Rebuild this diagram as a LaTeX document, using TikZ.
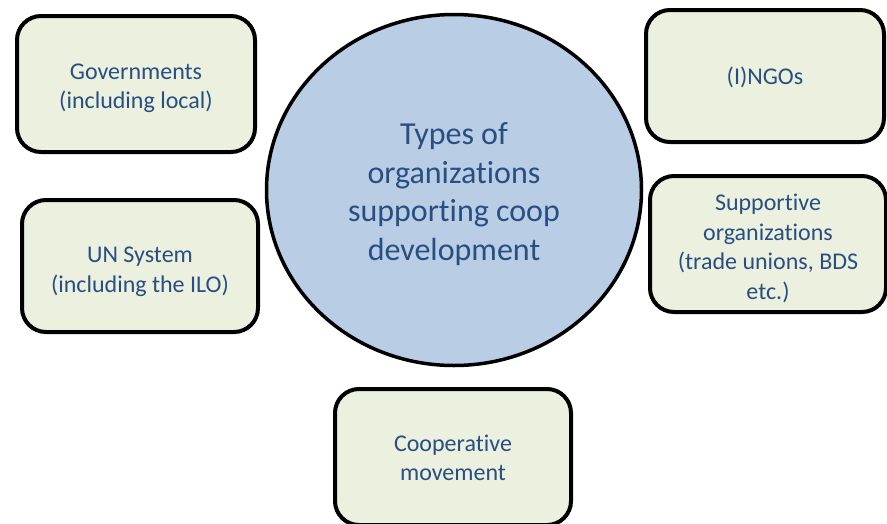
\documentclass[tikz,border=0pt]{standalone}
\usepackage{fontspec}
\setmainfont{Carlito}[Ligatures={NoCommon}]
\usetikzlibrary{shapes.geometric}
\definecolor{txtblue}{RGB}{40,78,130}
\definecolor{boxfill}{RGB}{235,241,222}
\definecolor{circfill}{RGB}{185,205,229}
\newcommand\topstrut[1]{\rule{0pt}{#1}}
\begin{document}
\begin{tikzpicture}[x=1pt,y=-1pt,
  orgbox/.style={draw=black, line width=4pt, fill=boxfill, rounded corners=24pt,
    rectangle, align=center, text=txtblue, inner sep=0pt,
    font=\fontsize{24}{29.5}\selectfont},
  hub/.style={draw=black, line width=3.5pt, fill=circfill, ellipse, inner sep=0pt,
    align=center, text=txtblue, font=\fontsize{32}{38.5}\selectfont}]
\useasboundingbox (0,0) rectangle (887,523);
\node[hub, minimum width=375pt, minimum height=351pt] (hubn) at (454,190)
  {\topstrut{30pt}Types of\\organizations\\supporting coop\\development};
\node[orgbox, minimum width=238pt, minimum height=136pt] (gov) at (136,84)
  {\topstrut{24pt}Governments\\(including local)};
\node[orgbox, minimum width=238pt, minimum height=132pt] (ngo) at (765,76)
  {\topstrut{20pt}(I)NGOs};
\node[orgbox, minimum width=236pt, minimum height=136pt] (sup) at (768,244)
  {\topstrut{25pt}Supportive\\organizations\\(trade unions, BDS\\etc.)};
\node[orgbox, minimum width=236pt, minimum height=132pt] (un) at (140,266)
  {\topstrut{27pt}UN System\\(including the ILO)};
\node[orgbox, minimum width=236pt, minimum height=136pt] (coop) at (453,457)
  {\topstrut{18pt}Cooperative\\movement};
\end{tikzpicture}
\end{document}
